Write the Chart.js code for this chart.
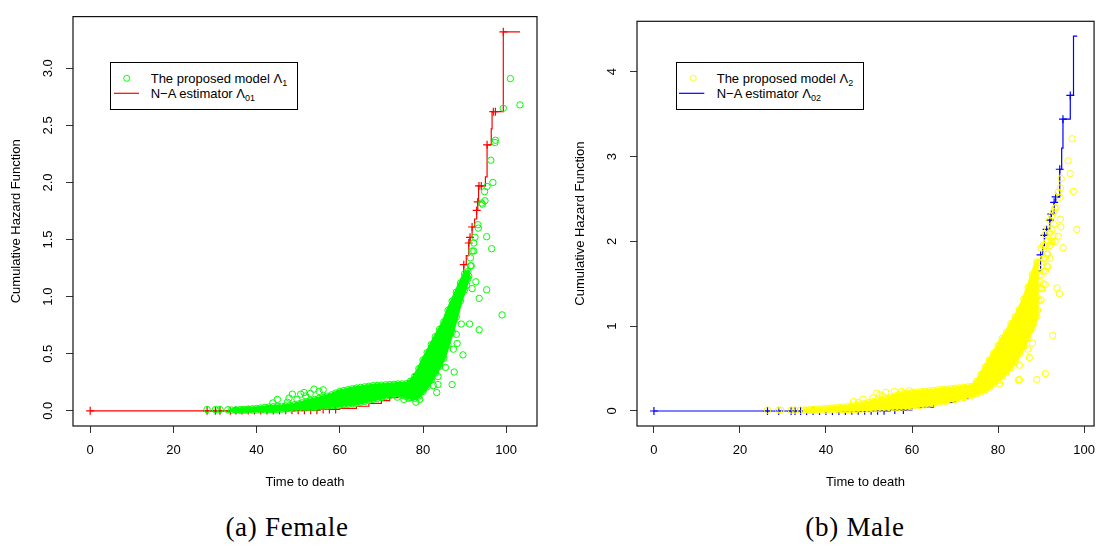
<!DOCTYPE html>
<html>
<head>
<meta charset="utf-8">
<script src="https://cdn.jsdelivr.net/npm/chart.js@4.4.1/dist/chart.umd.min.js"></script>
<style>
  body { margin: 0; background: #fff; width: 1105px; height: 549px; overflow: hidden; position: relative; font-family: 'Liberation Sans', Arial, sans-serif; }
  canvas { position: absolute; top: 0; }
  .legend { position: absolute; top: 62px; width: 188px; height: 48px; box-sizing: border-box; border: 1px solid #000; background: #fff; }
  .legend svg { position: absolute; left: 0; top: 0; }
  .legend .row { position: absolute; left: 39.7px; font-size: 13px; line-height: 15px; white-space: nowrap; color: #000; }
  .sub { font-size: 9px; position: relative; top: 3px; }
  .caption { position: absolute; top: 512px; width: 300px; text-align: center; font-family: 'Liberation Serif', serif; font-size: 27px; line-height: 30px; letter-spacing: 0.7px; color: #000; }
</style>
</head>
<body>
<canvas id="female" width="550" height="500" style="left:0px;width:550px;height:500px"></canvas>
<canvas id="male" width="545" height="500" style="left:560px;width:545px;height:500px"></canvas>

<div class="legend" style="left:110px">
  <svg width="186" height="46">
    <circle cx="15.7" cy="15.3" r="3" fill="none" stroke="#00ff00" stroke-width="1"></circle>
    <line x1="3" y1="30.3" x2="28" y2="30.3" stroke="#ff0000" stroke-width="1.2"></line>
  </svg>
  <div class="row" style="top:8.3px">The proposed model Λ<span class="sub">1</span></div>
  <div class="row" style="top:23.3px">N−A estimator Λ<span class="sub">01</span></div>
</div>
<div class="legend" style="left:676px">
  <svg width="186" height="46">
    <circle cx="16.3" cy="15.3" r="3" fill="none" stroke="#ffff00" stroke-width="1"></circle>
    <line x1="2" y1="30.3" x2="27.3" y2="30.3" stroke="#0000ff" stroke-width="1.2"></line>
  </svg>
  <div class="row" style="top:8.3px">The proposed model Λ<span class="sub">2</span></div>
  <div class="row" style="top:23.3px">N−A estimator Λ<span class="sub">02</span></div>
</div>

<div class="caption" style="left:137px">(a) Female</div>
<div class="caption" style="left:705px">(b) Male</div>

<script>
let xTicks = [0, 20, 40, 60, 80, 100]
let femaleYTicks = [0, 0.5, 1, 1.5, 2, 2.5, 3]
let maleYTicks = [0, 1, 2, 3, 4]

// Nelson-Aalen estimate: jump times and the cumulative hazard reached at each jump
let femaleNaTime = [0, 34, 45, 55, 60, 64, 67, 70, 72, 74, 75.5, 77, 78, 79, 80, 81, 82, 83, 84, 85, 86, 87, 88, 89, 89.8, 90.4, 91.0, 91.3, 91.8, 92.4, 92.9, 93.15, 93.35, 95.0, 95.4, 96.4, 96.6, 99.3, 103.3]
let femaleNaHazard = [0, 0.002, 0.005, 0.012, 0.022, 0.04, 0.065, 0.09, 0.115, 0.14, 0.18, 0.27, 0.32, 0.38, 0.44, 0.5, 0.56, 0.62, 0.69, 0.76, 0.83, 0.91, 1.0, 1.1, 1.28, 1.36, 1.47, 1.52, 1.61, 1.68, 1.755, 1.83, 1.97, 2.05, 2.33, 2.47, 2.62, 3.32, 3.32]
// censoring marks on the step curve
let femaleCensor = [[0, 0], [28.1, 0], [30.1, 0], [31.2, 0], [33.7, 0], [35, 0.002], [36.5, 0.002], [38, 0.002], [39.5, 0.002], [41, 0.002], [42.5, 0.002], [44, 0.002],
  [45.5, 0.005], [47, 0.005], [48.5, 0.005], [50, 0.005], [51.5, 0.005], [53, 0.005], [54.5, 0.005], [56, 0.012], [57.5, 0.012], [59, 0.012],
  [78.5, 0.32], [81.9, 0.5], [84.3, 0.69], [85.75, 0.76], [88.4, 1.0], [89.1, 1.1], [89.8, 1.28], [91.0, 1.47], [91.3, 1.52], [91.8, 1.61],
  [92.9, 1.755], [93.15, 1.83], [93.45, 1.97], [94.0, 1.97], [95.4, 2.33], [96.9, 2.62], [97.4, 2.62], [99.3, 3.32]]

// solid part of the fitted-model cloud: lower and upper rows of points
let femaleBandX = [34, 35, 36, 37, 38, 39, 40, 41, 42, 43, 44, 45, 46, 47, 48, 49, 50, 51, 52, 53, 54, 55, 56, 57, 58, 59, 60, 61, 62, 63, 64, 65, 66, 67, 68, 69, 70, 71, 72, 73, 74, 75, 76, 77, 78, 79, 80, 81, 82, 83, 84, 85, 86, 87, 88, 89, 90, 90.8]
let femaleBandLow = [0.006, 0.005, 0.005, 0.005, 0.006, 0.006, 0.007, 0.008, 0.009, 0.01, 0.011, 0.012, 0.014, 0.016, 0.018, 0.02, 0.022, 0.024, 0.026, 0.028, 0.03, 0.034, 0.038, 0.041, 0.044, 0.047, 0.05, 0.054, 0.058, 0.062, 0.067, 0.075, 0.083, 0.092, 0.1, 0.107, 0.115, 0.125, 0.135, 0.143, 0.15, 0.135, 0.125, 0.115, 0.11, 0.13, 0.17, 0.21, 0.27, 0.33, 0.39, 0.46, 0.58, 0.69, 0.82, 0.96, 1.06, 1.16]
let femaleBandHigh = [0.006, 0.008, 0.01, 0.013, 0.016, 0.018, 0.02, 0.025, 0.03, 0.033, 0.036, 0.038, 0.04, 0.043, 0.046, 0.052, 0.06, 0.07, 0.08, 0.09, 0.1, 0.108, 0.116, 0.128, 0.14, 0.155, 0.17, 0.178, 0.185, 0.193, 0.2, 0.205, 0.21, 0.215, 0.22, 0.222, 0.225, 0.228, 0.23, 0.232, 0.235, 0.236, 0.238, 0.26, 0.3, 0.37, 0.445, 0.51, 0.58, 0.65, 0.715, 0.78, 0.88, 0.96, 1.04, 1.12, 1.2, 1.22]
let femaleFillEnd = 90.8
// separate fitted-model points
let femaleModel = [[28.1, 0.011], [30.1, 0.011], [31.2, 0.011], [33.1, 0.01],
  [43.9, 0.069], [45, 0.1], [47.4, 0.075], [47.8, 0.112], [48.6, 0.146], [49.7, 0.1], [50.6, 0.146], [51.4, 0.16], [51.8, 0.13], [52.9, 0.152], [53.8, 0.19], [55, 0.17], [56, 0.184],
  [73.8, 0.12], [75.4, 0.1], [76.5, 0.11], [78.3, 0.075], [79.2, 0.1], [80.1, 0.19], [82.5, 0.22], [83.3, 0.16], [83.6, 0.23], [83.6, 0.3], [85.4, 0.38],
  [87, 0.23], [87.5, 0.34], [87.3, 0.54], [88.2, 0.59], [88, 0.67], [89.6, 0.49], [89.2, 0.76], [91.2, 0.76], [93.5, 0.71], [99, 0.84],
  [93.5, 0.985], [95.3, 1.06], [91.8, 1.07], [92.7, 1.13], [91.0, 1.18], [90.5, 1.1], [91.4, 1.27], [91.6, 1.27], [91.4, 1.34], [91.8, 1.4], [92.2, 1.4],
  [92.2, 1.47], [92.5, 1.52], [96.5, 1.42], [95.3, 1.525], [93.2, 1.63], [93.3, 1.6], [94.1, 1.82], [94.3, 1.81], [94.9, 1.84], [94.8, 1.92], [95.4, 1.965],
  [96.8, 2.0], [96.3, 2.195], [97.4, 2.37], [97.3, 2.35], [99.3, 2.65], [101, 2.91], [103.3, 2.68]]

let maleNaTime = [0, 34, 45, 55, 60, 65, 70, 73, 75, 77, 79, 81, 83, 85.2, 86.5, 87.5, 88.3, 89.0, 89.9, 90.4, 90.8, 91.3, 92.05, 92.4, 93.05, 93.4, 94.35, 94.8, 95.1, 96.8, 97.55, 98.4]
let maleNaHazard = [0, 0, 0.002, 0.012, 0.045, 0.1, 0.15, 0.2, 0.25, 0.34, 0.47, 0.64, 0.84, 1.15, 1.30, 1.46, 1.56, 1.65, 1.84, 1.95, 2.07, 2.14, 2.25, 2.32, 2.46, 2.525, 2.85, 3.1, 3.44, 3.72, 4.42, 4.42]
let maleCensor = [[0, 0], [26.4, 0], [29.0, 0], [31.9, 0], [32.8, 0], [34.1, 0], [35.5, 0], [37, 0], [38.5, 0], [40, 0], [41.5, 0], [43, 0], [44.5, 0],
  [46, 0.002], [47.5, 0.002], [49, 0.002], [50.5, 0.002], [52, 0.002], [53.5, 0.002], [56, 0.012], [58, 0.012],
  [85.6, 1.15], [87.9, 1.46], [89.9, 1.84], [90.8, 2.07], [91.3, 2.14], [92.05, 2.25], [92.4, 2.32], [93.05, 2.46], [93.4, 2.525], [94.35, 2.85], [95.1, 3.44], [96.8, 3.72]]

let maleBandX = [35, 36, 37, 38, 39, 40, 41, 42, 43, 44, 45, 46, 47, 48, 49, 50, 51, 52, 53, 54, 55, 56, 57, 58, 59, 60, 61, 62, 63, 64, 65, 66, 67, 68, 69, 70, 71, 72, 73, 74, 75, 76, 77, 78, 79, 80, 81, 82, 83, 84, 85, 86, 87, 88, 89, 90, 91]
let maleBandLow = [0.008, 0.008, 0.008, 0.008, 0.009, 0.01, 0.011, 0.012, 0.013, 0.014, 0.015, 0.016, 0.018, 0.02, 0.022, 0.024, 0.026, 0.029, 0.032, 0.035, 0.038, 0.04, 0.042, 0.045, 0.048, 0.053, 0.06, 0.067, 0.073, 0.08, 0.088, 0.097, 0.106, 0.115, 0.125, 0.135, 0.145, 0.158, 0.172, 0.186, 0.205, 0.225, 0.25, 0.28, 0.32, 0.36, 0.41, 0.46, 0.51, 0.59, 0.67, 0.76, 0.86, 0.97, 1.12, 1.31, 1.49]
let maleBandHigh = [0.01, 0.014, 0.018, 0.022, 0.026, 0.03, 0.034, 0.038, 0.042, 0.047, 0.052, 0.058, 0.065, 0.076, 0.088, 0.1, 0.112, 0.124, 0.136, 0.148, 0.162, 0.178, 0.195, 0.205, 0.212, 0.22, 0.224, 0.228, 0.233, 0.238, 0.243, 0.248, 0.253, 0.258, 0.263, 0.268, 0.273, 0.278, 0.284, 0.29, 0.35, 0.43, 0.52, 0.6, 0.68, 0.77, 0.86, 0.93, 1.03, 1.11, 1.2, 1.32, 1.46, 1.61, 1.76, 1.92, 2.08]
let maleFillEnd = 89
let maleModel = [[26.4, 0.01], [29.0, 0.01], [29.5, 0.01], [31.9, 0.01], [32.8, 0.01], [34.1, 0.01],
  [46.4, 0.11], [47.5, 0.1], [48.6, 0.14], [50.9, 0.155], [51.8, 0.21], [52.5, 0.19], [53.2, 0.175], [53.9, 0.22], [55.9, 0.23], [57.6, 0.23], [59.4, 0.24],
  [80.4, 0.32], [84.7, 0.365], [85.0, 0.37], [89.0, 0.37], [91.0, 0.44], [85.0, 0.54], [87.3, 0.63], [86.9, 0.73], [88.0, 0.8], [92.7, 0.89],
  [88.2, 1.02], [89.2, 1.19], [89.0, 1.34], [90.2, 1.44], [93.7, 1.45], [94.3, 1.38],
  [89.5, 1.3], [89.5, 1.45], [89.5, 1.6], [89.5, 1.75], [90, 1.45], [90, 1.6], [90, 1.75],
  [90.5, 1.5], [90.5, 1.65], [90.5, 1.8], [90.5, 1.95], [91, 1.65], [91, 1.8], [91, 1.95], [91.5, 1.7], [91.5, 1.85], [91.5, 2.0], [91.5, 2.15],
  [92, 1.8], [92, 1.95], [92, 2.1], [92, 2.25], [92.5, 2.0], [92.5, 2.15], [92.5, 2.3], [93, 2.2], [93, 2.35], [93.5, 2.4],
  [91.3, 1.85], [91.4, 1.71], [93.3, 2.0], [92.8, 2.07], [94.0, 2.06], [95.1, 1.925], [94.6, 2.17], [94.5, 2.26], [98.3, 2.14], [93.2, 2.39],
  [94.0, 2.58], [94.4, 2.52], [94.5, 2.63], [94.7, 2.74], [97.5, 2.59], [96.8, 2.8], [96.25, 2.95], [97.2, 3.21]]

Chart.defaults.font.family = "'Liberation Sans', Arial, sans-serif"
Chart.defaults.font.size = 13
Chart.defaults.color = '#000'

let pts = (xs, ys) => xs.map((x, i) => ({ x: x, y: ys[i] }))
let pairs = list => list.map(d => ({ x: d[0], y: d[1] }))

let frame = {
  id: 'frame',
  afterDatasetsDraw(chart) {
    let a = chart.chartArea
    let ctx = chart.ctx
    ctx.save()
    ctx.strokeStyle = '#111'
    ctx.lineWidth = 1.2
    ctx.strokeRect(a.left, a.top, a.right - a.left, a.bottom - a.top)
    ctx.restore()
  }
}

let makeChart = (id, p) => {
  let n = p.bandX.filter(x => x <= p.fillEnd).length
  // outline of the solid region: along the top row, back along the bottom row, closed
  let outline = pts(p.bandX.slice(0, n), p.bandHigh.slice(0, n))
    .concat(pts(p.bandX.slice(0, n), p.bandLow.slice(0, n)).reverse())
  outline.push(outline[0])

  let circles = []
  p.bandX.forEach((x, i) => {
    circles.push({ x: x, y: p.bandLow[i] })
    if (p.bandHigh[i] !== p.bandLow[i]) circles.push({ x: x, y: p.bandHigh[i] })
  })
  circles = circles.concat(pairs(p.model))

  let axisGrid = { drawOnChartArea: false, drawTicks: true, tickLength: 7, color: '#333', lineWidth: 1 }

  return new Chart(document.getElementById(id), {
    type: 'scatter',
    data: {
      datasets: [
        {
          data: circles, order: 1,
          pointStyle: 'circle', pointRadius: 3.2, pointBorderWidth: 1, borderWidth: 1,
          pointBorderColor: p.pointColor, borderColor: p.pointColor, pointBackgroundColor: 'rgba(0,0,0,0)', backgroundColor: 'rgba(0,0,0,0)'
        },
        {
          type: 'line', data: outline, order: 2,
          borderWidth: 4, borderColor: p.pointColor, borderJoinStyle: 'round', borderCapStyle: 'round',
          pointRadius: 0, fill: 'shape', backgroundColor: p.pointColor
        },
        {
          data: pairs(p.censor), order: 3,
          pointStyle: 'cross', pointRadius: 4, pointBorderWidth: 1.2, borderWidth: 1.2,
          pointBorderColor: p.lineColor, borderColor: p.lineColor
        },
        {
          type: 'line', data: pts(p.naTime, p.naHazard), order: 4, stepped: true,
          borderColor: p.lineColor, borderWidth: 1.2, pointRadius: 0, fill: false
        }
      ]
    },
    options: {
      responsive: false,
      animation: false,
      events: [],
      layout: { padding: { top: 10, right: p.padRight, left: 0, bottom: 0 } },
      plugins: { legend: { display: false }, tooltip: { enabled: false } },
      scales: {
        x: {
          type: 'linear', min: p.xMin, max: p.xMax,
          afterBuildTicks: s => { s.ticks = xTicks.map(v => ({ value: v })) },
          afterFit: s => { s.height = 74 },
          grid: axisGrid,
          border: { display: false },
          ticks: { autoSkip: false, maxRotation: 0, padding: 10, color: '#000' },
          title: { display: true, text: 'Time to death', color: '#000', padding: { top: 0, bottom: 10 } }
        },
        y: {
          type: 'linear', min: p.yMin, max: p.yMax,
          afterBuildTicks: s => { s.ticks = p.yTicks.map(v => ({ value: v })) },
          afterFit: s => { s.width = p.yWidth },
          grid: axisGrid,
          border: { display: false },
          ticks: { autoSkip: false, minRotation: 90, maxRotation: 90, crossAlign: 'center', padding: p.yTickPad, color: '#000', callback: p.yFormat },
          title: { display: true, text: 'Cumulative Hazard Function', color: '#000', padding: { top: p.yTitlePad, bottom: 0 } }
        }
      }
    },
    plugins: [frame]
  })
}

makeChart('female', {
  naTime: femaleNaTime, naHazard: femaleNaHazard, censor: femaleCensor,
  bandX: femaleBandX, bandLow: femaleBandLow, bandHigh: femaleBandHigh, fillEnd: femaleFillEnd, model: femaleModel,
  pointColor: '#00ff00', lineColor: '#ff0000',
  xMin: -4.13, xMax: 107.4, yMin: -0.133, yMax: 3.453, yTicks: femaleYTicks,
  yFormat: v => v.toFixed(1),
  padRight: 13, yWidth: 73, yTickPad: 8.8, yTitlePad: 9
})

makeChart('male', {
  naTime: maleNaTime, naHazard: maleNaHazard, censor: maleCensor,
  bandX: maleBandX, bandLow: maleBandLow, bandHigh: maleBandHigh, fillEnd: maleFillEnd, model: maleModel,
  pointColor: '#ffff00', lineColor: '#0000ff',
  xMin: -3.94, xMax: 102.33, yMin: -0.177, yMax: 4.594, yTicks: maleYTicks,
  yFormat: v => String(v),
  padRight: 3.6, yWidth: 77, yTickPad: 13.5, yTitlePad: 12.9
})
</script>
</body>
</html>
